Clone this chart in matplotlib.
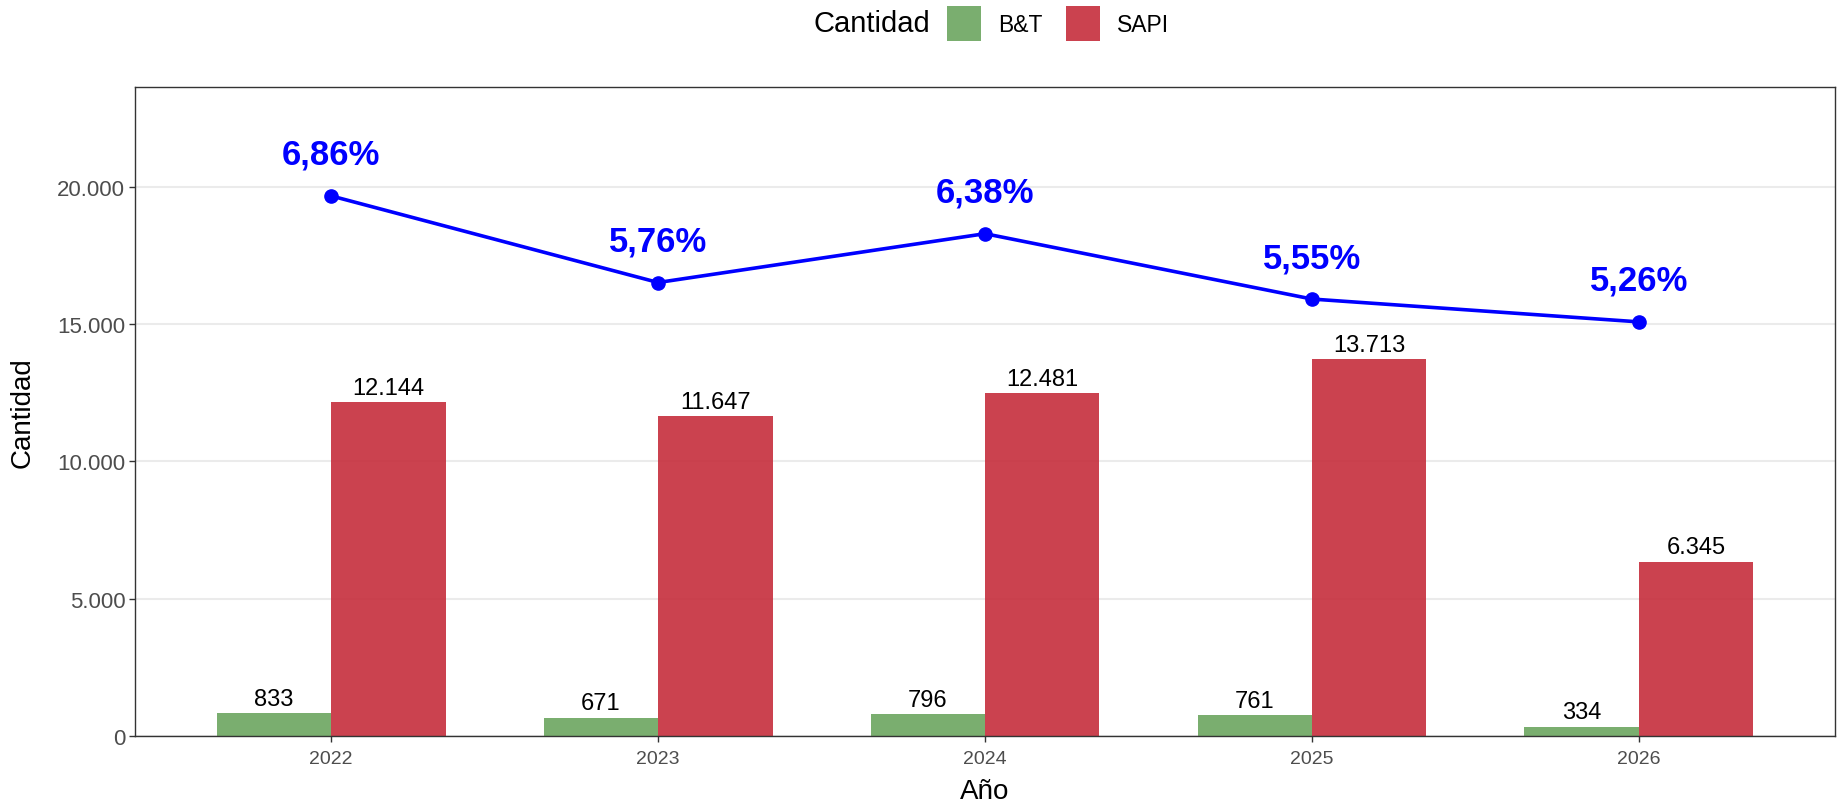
import matplotlib
matplotlib.use("Agg")
import matplotlib.pyplot as plt
from matplotlib.patches import Patch
import numpy as np

plt.rcParams['font.family'] = ['Liberation Sans', 'DejaVu Sans']

# ---- data ----
years = ["2022", "2023", "2024", "2025", "2026"]
bt = [833, 671, 796, 761, 334]
sapi = [12144, 11647, 12481, 13713, 6345]
pct = [6.86, 5.76, 6.38, 5.55, 5.26]
line_scale = 2866  # units of Cantidad per percentage point (secondary scaling)

series_names = ["B&T", "SAPI"]
colors = ["#6CA55F", "#C62D3C"]

def fmt_thousands(v):
    return f"{int(v):,}".replace(",", ".")

def fmt_pct(v):
    return f"{v:.2f}".replace(".", ",") + "%"

W, H = 1837, 804
fig = plt.figure(figsize=(W / 100, H / 100), dpi=100)
ax = fig.add_axes([135 / W, (H - 737) / H, (1835 - 135) / W, (737 - 88) / H])

x = np.arange(len(years))
bw = 0.35
b1 = ax.bar(x - bw / 2, bt, width=bw, color=colors[0], alpha=0.9, zorder=2)
b2 = ax.bar(x + bw / 2, sapi, width=bw, color=colors[1], alpha=0.9, zorder=2)

for xi, v in zip(x - bw / 2, bt):
    ax.annotate(fmt_thousands(v), (xi, v), xytext=(0, 6), textcoords="offset points",
                ha="center", va="baseline", fontsize=17, color="black", zorder=5)
for xi, v in zip(x + bw / 2, sapi):
    ax.annotate(fmt_thousands(v), (xi, v), xytext=(0, 6), textcoords="offset points",
                ha="center", va="baseline", fontsize=17, color="black", zorder=5)

line_y = [p * line_scale for p in pct]
ax.plot(x, line_y, color="#0000FF", linewidth=2.6, marker="o", markersize=9.5, zorder=4)
for xi, yi, p in zip(x, line_y, pct):
    ax.annotate(fmt_pct(p), (xi, yi), xytext=(0, 23), textcoords="offset points",
                ha="center", va="baseline", fontsize=25, fontweight="bold",
                color="#0000FF", zorder=5)

ax.set_xlim(-0.6, 4.6)
ax.set_ylim(0, 23625)
ax.set_xticks(x)
ax.set_xticklabels(years)
yt = [0, 5000, 10000, 15000, 20000]
ax.set_yticks(yt)
ax.set_yticklabels([fmt_thousands(v) for v in yt])

ax.set_axisbelow(True)
ax.yaxis.grid(True, color="#EBEBEB", linewidth=1.5)
ax.xaxis.grid(False)
for s in ax.spines.values():
    s.set_color("#333333")
    s.set_linewidth(1.0)
ax.tick_params(axis="both", colors="#333333", length=4, width=1.0)
ax.tick_params(axis="x", labelsize=14, labelcolor="#4D4D4D", pad=6)
ax.tick_params(axis="y", labelsize=16, labelcolor="#4D4D4D", pad=3)

ax.set_xlabel("Año", fontsize=20, color="black")
ax.set_ylabel("Cantidad", fontsize=20, color="black")
ax.xaxis.set_label_coords(0.5, (737 - 792) / (737 - 88))
ax.xaxis.label.set_va("center")
ax.yaxis.set_label_coords((23 - 135) / (1835 - 135), 0.5)
ax.yaxis.label.set_va("center")

# legend at top
handles = [Patch(facecolor=c, alpha=0.9, edgecolor="none") for c in colors]
leg = fig.legend(handles, series_names, loc="center left",
                 bbox_to_anchor=(947 / W, 1 - 24.5 / H), ncol=2, frameon=False,
                 fontsize=16.5, handlelength=1.5, handleheight=2.0,
                 handletextpad=0.75, columnspacing=1.0, borderaxespad=0, borderpad=0)
fig.text(930 / W, 1 - 24.5 / H, "Cantidad", ha="right", va="center", fontsize=21, color="black")

fig.savefig("out.png", dpi=100, facecolor="white")
